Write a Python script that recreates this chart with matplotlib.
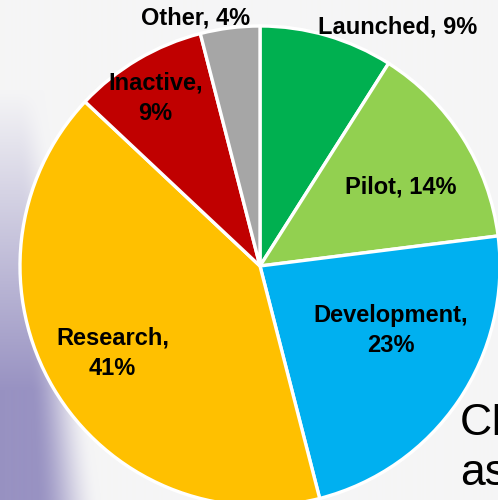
import numpy as np
import matplotlib
matplotlib.use("Agg")
import matplotlib.pyplot as plt

categories = ["Launched", "Pilot", "Development", "Research", "Inactive", "Other"]
values = [9, 14, 23, 41, 9, 4]
colors = ["#00B050", "#92D050", "#00B0F0", "#FFC000", "#C00000", "#A6A6A6"]
label_texts = ["Launched, 9%", "Pilot, 14%", "Development,\n23%", "Research,\n41%", "Inactive,\n9%", "Other, 4%"]
# label positions in pie units (centre = 0,0, radius = 1)
label_pos = [(0.575, 0.996), (0.5875, 0.329), (0.545, -0.27), (-0.615, -0.365), (-0.435, 0.70), (-0.27, 1.035)]

W, H, DPI = 4.98, 5.0, 100
fig = plt.figure(figsize=(W, H), dpi=DPI)
fig.patch.set_facecolor("#f4f4f4")

# background gradient
bg = fig.add_axes([0, 0, 1, 1], zorder=0)
bg.axis("off")
ny, nx = 500, 498
yy, xx = np.mgrid[0:ny, 0:nx]
base = np.array([245, 245, 246]) / 255.0
purple = np.array([152, 146, 194]) / 255.0
w = 30 + 0.14 * yy
t = np.clip((xx - 0.35 * w) / (0.65 * w), 0, 1)
fx = 1 - t * t * (3 - 2 * t)
fy = np.clip((yy - 90) / 300.0, 0, 1)
a = (fx * fy)[..., None]
img = base * (1 - a) + purple * a
bg.imshow(img, extent=[0, 1, 0, 1], aspect="auto", origin="upper")
bg.set_xlim(0, 1); bg.set_ylim(0, 1)

# partially hidden text behind the chart
bg.text(460 / 498, 1 - 435 / 500, "CB", fontsize=32, family="Liberation Sans",
        color="black", ha="left", va="baseline", transform=bg.transAxes)
bg.text(460 / 498, 1 - 485 / 500, "as", fontsize=32, family="Liberation Sans",
        color="black", ha="left", va="baseline", transform=bg.transAxes)

cx, cy, R = 260, 266, 240
ax = fig.add_axes([0, 0, 1, 1], zorder=1)
ax.set_facecolor("none")
ax.pie(values, colors=colors, startangle=90, counterclock=False,
       wedgeprops=dict(edgecolor="white", linewidth=2.4))
ax.set_xlim((0 - cx) / R, (498 - cx) / R)
ax.set_ylim((cy - 500) / R, cy / R)
ax.set_aspect("equal")
ax.axis("off")

for t_, (x, y) in zip(label_texts, label_pos):
    ax.text(x, y, t_, ha="center", va="center", fontsize=17, fontweight="bold",
            family="Liberation Sans", color="black", linespacing=1.4)

fig.savefig("out.png", dpi=DPI)
